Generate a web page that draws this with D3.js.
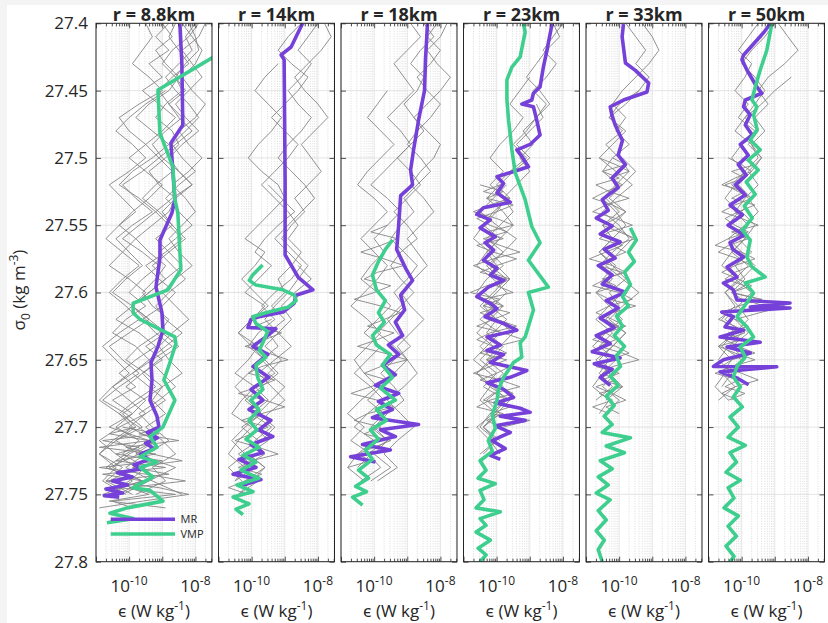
<!DOCTYPE html>
<html><head><meta charset="utf-8">
<script src="https://cdn.jsdelivr.net/npm/d3@7"></script>
<style>
body{margin:0;background:#fff;}
svg{display:block;}
text{font-family:"Open Sans","Noto Sans",sans-serif;fill:#262626;}
</style></head><body>
<svg id="c" width="828" height="623"></svg>
<script>
// ---------------- DATA ----------------
const titles = ["r = 8.8km","r = 14km","r = 18km","r = 23km","r = 33km","r = 50km"];
const yTicks = [27.4,27.45,27.5,27.55,27.6,27.65,27.7,27.75,27.8];
const xMajor = [1e-11,1e-10,1e-9,1e-8];
const xLabelTicks = [1e-10,1e-8];
const xLabelExp = ["-10","-8"];
const seriesNames = ["MR","VMP"];

// MR profiles: [sigma0, log10(epsilon)]
const mr1 = [[27.400,-8.47],[27.4295,-8.41],[27.4756,-8.38],[27.489,-8.74],[27.531,-8.62],[27.541,-8.71],[27.561,-9.07],[27.574,-9.07],[27.596,-9.19],[27.615,-9.01],[27.628,-8.98],[27.640,-9.13],[27.652,-9.34],[27.665,-9.31],[27.680,-9.37],[27.692,-9.16],[27.700,-9.10],[27.704,-9.45],[27.708,-9.15],[27.712,-9.50],[27.716,-9.25],[27.720,-9.65],[27.724,-9.40],[27.728,-9.85],[27.731,-9.60],[27.734,-10.35],[27.737,-9.90],[27.740,-10.50],[27.743,-10.05],[27.746,-10.70],[27.749,-10.20],[27.751,-10.75],[27.752,-10.30]];
const mr2 = [[27.400,-8.46],[27.4176,-8.81],[27.4235,-9.11],[27.427,-9.02],[27.516,-8.99],[27.572,-8.99],[27.5885,-8.60],[27.598,-8.15],[27.602,-8.66],[27.608,-8.72],[27.6145,-9.05],[27.618,-9.78],[27.620,-10.02],[27.626,-10.11],[27.627,-9.27],[27.633,-9.57],[27.640,-9.96],[27.646,-9.51],[27.655,-9.96],[27.663,-9.48],[27.672,-10.02],[27.680,-9.66],[27.687,-10.08],[27.695,-9.42],[27.702,-9.78],[27.707,-9.36],[27.713,-10.02],[27.719,-9.66],[27.724,-10.38],[27.730,-9.87],[27.735,-10.56],[27.739,-9.72],[27.744,-10.38]];
const mr3 = [[27.400,-8.39],[27.427,-8.45],[27.450,-8.48],[27.472,-8.66],[27.494,-8.81],[27.509,-8.90],[27.520,-8.84],[27.528,-9.20],[27.550,-9.26],[27.568,-9.32],[27.582,-9.05],[27.591,-8.84],[27.602,-9.20],[27.613,-9.08],[27.622,-9.36],[27.632,-9.14],[27.639,-9.57],[27.646,-9.26],[27.654,-9.75],[27.661,-9.36],[27.669,-9.96],[27.675,-9.26],[27.681,-9.87],[27.687,-9.45],[27.693,-10.05],[27.698,-8.66],[27.702,-9.81],[27.707,-9.36],[27.713,-10.35],[27.717,-9.51],[27.722,-10.71],[27.726,-9.96]];
const mr4 = [[27.4005,-8.33],[27.407,-8.38],[27.4146,-8.44],[27.420,-8.48],[27.4325,-8.59],[27.4473,-8.69],[27.452,-8.89],[27.457,-8.94],[27.460,-9.24],[27.462,-8.89],[27.472,-8.79],[27.483,-8.69],[27.490,-8.99],[27.494,-9.39],[27.499,-9.24],[27.5066,-9.04],[27.509,-9.34],[27.514,-9.99],[27.519,-9.79],[27.526,-9.99],[27.533,-9.59],[27.537,-10.40],[27.542,-10.60],[27.546,-10.19],[27.552,-10.50],[27.5586,-10.04],[27.563,-10.35],[27.5685,-10.09],[27.576,-10.40],[27.582,-9.99],[27.587,-10.19],[27.591,-9.79],[27.596,-10.25],[27.603,-10.60],[27.608,-10.19],[27.612,-9.99],[27.618,-10.35],[27.623,-9.79],[27.628,-9.39],[27.633,-10.29],[27.639,-9.89],[27.643,-10.29],[27.646,-9.79],[27.652,-10.19],[27.658,-9.09],[27.663,-9.59],[27.667,-10.29],[27.672,-9.79],[27.678,-9.49],[27.682,-10.04],[27.686,-9.29],[27.689,-8.99],[27.692,-9.89],[27.695,-9.14],[27.699,-10.04],[27.704,-9.59],[27.710,-10.14],[27.716,-9.74],[27.721,-10.19],[27.724,-9.89]];
const mr5 = [[27.4005,-9.87],[27.410,-9.91],[27.4295,-9.81],[27.435,-9.51],[27.4444,-9.11],[27.451,-9.16],[27.457,-9.87],[27.462,-10.27],[27.468,-10.22],[27.4756,-10.12],[27.487,-9.90],[27.498,-10.03],[27.505,-9.81],[27.515,-10.21],[27.522,-10.03],[27.531,-10.51],[27.539,-10.33],[27.5447,-10.69],[27.5506,-10.21],[27.5566,-10.57],[27.5625,-9.97],[27.568,-10.45],[27.5744,-10.12],[27.580,-10.63],[27.587,-10.21],[27.5937,-10.51],[27.5997,-9.81],[27.606,-10.39],[27.6115,-10.03],[27.619,-10.57],[27.626,-10.15],[27.632,-10.69],[27.638,-10.27],[27.644,-10.81],[27.6486,-9.97],[27.653,-10.75],[27.657,-10.21],[27.663,-10.57],[27.669,-10.27]];
const mr6 = [[27.4005,-9.14],[27.407,-9.34],[27.4235,-9.94],[27.427,-9.99],[27.4347,-9.84],[27.4473,-9.54],[27.452,-9.39],[27.457,-9.89],[27.462,-9.94],[27.468,-9.74],[27.4756,-9.89],[27.483,-9.68],[27.490,-10.04],[27.498,-9.80],[27.505,-10.10],[27.5127,-9.86],[27.520,-10.19],[27.5276,-9.89],[27.535,-10.35],[27.5424,-9.98],[27.550,-10.41],[27.5573,-9.92],[27.563,-10.35],[27.568,-10.26],[27.5736,-9.94],[27.581,-10.44],[27.5885,-10.14],[27.593,-10.55],[27.598,-10.25],[27.6056,-10.14],[27.6078,-8.54],[27.6108,-9.74],[27.6115,-8.54],[27.6145,-10.60],[27.618,-10.25],[27.6256,-10.50],[27.628,-9.94],[27.633,-10.65],[27.637,-9.44],[27.6405,-10.44],[27.645,-9.74],[27.650,-10.55],[27.655,-10.85],[27.6552,-8.94],[27.659,-10.65],[27.6635,-10.14],[27.6685,-9.79]];

// VMP profiles: [sigma0, log10(epsilon)]
const vmp1 = [[27.400,-5.75],[27.4496,-9.13],[27.4816,-9.07],[27.5067,-8.68],[27.531,-8.62],[27.541,-8.53],[27.583,-8.44],[27.598,-8.83],[27.608,-9.88],[27.615,-9.88],[27.620,-9.67],[27.633,-8.62],[27.638,-8.59],[27.652,-8.77],[27.665,-8.95],[27.680,-8.62],[27.700,-8.98],[27.707,-9.37],[27.715,-9.16],[27.722,-9.67],[27.726,-9.16],[27.730,-9.67],[27.737,-9.28],[27.745,-9.88],[27.747,-9.37],[27.755,-8.98],[27.760,-10.06],[27.764,-10.58],[27.768,-9.88],[27.771,-10.67]];
const vmp2 = [[27.5795,-9.67],[27.587,-9.97],[27.591,-10.07],[27.5945,-9.87],[27.598,-9.06],[27.602,-8.71],[27.606,-8.66],[27.611,-8.91],[27.615,-9.57],[27.618,-9.97],[27.623,-9.87],[27.629,-9.52],[27.635,-9.62],[27.643,-9.77],[27.648,-9.57],[27.654,-9.87],[27.663,-9.82],[27.672,-9.66],[27.680,-10.02],[27.687,-9.78],[27.695,-10.08],[27.702,-9.84],[27.709,-10.17],[27.715,-9.78],[27.721,-10.26],[27.726,-9.87],[27.732,-10.32],[27.738,-9.78],[27.743,-10.44],[27.748,-9.96],[27.752,-10.56],[27.757,-10.08],[27.761,-10.47],[27.765,-10.26]];
const vmp3 = [[27.561,-9.45],[27.568,-9.66],[27.577,-9.87],[27.587,-10.05],[27.598,-9.93],[27.606,-9.66],[27.615,-9.87],[27.622,-9.69],[27.632,-10.05],[27.639,-9.93],[27.646,-9.51],[27.654,-9.75],[27.663,-9.45],[27.671,-9.81],[27.680,-9.36],[27.687,-9.93],[27.695,-9.63],[27.702,-10.11],[27.709,-9.87],[27.717,-10.26],[27.724,-10.05],[27.732,-10.47],[27.738,-10.17],[27.744,-10.56],[27.748,-10.23],[27.752,-10.65],[27.758,-10.35]];
const vmp4 = [[27.4005,-9.19],[27.4065,-9.14],[27.425,-9.29],[27.4325,-9.54],[27.442,-9.69],[27.457,-9.69],[27.472,-9.64],[27.494,-9.54],[27.511,-9.44],[27.531,-9.14],[27.551,-8.94],[27.563,-8.69],[27.576,-9.04],[27.596,-8.44],[27.600,-9.04],[27.613,-8.89],[27.633,-9.14],[27.6375,-9.29],[27.648,-9.24],[27.652,-9.49],[27.663,-9.79],[27.672,-9.94],[27.680,-9.99],[27.691,-10.13],[27.701,-10.04],[27.710,-10.25],[27.718,-10.13],[27.725,-10.50],[27.732,-10.32],[27.738,-10.56],[27.742,-10.04],[27.747,-10.50],[27.754,-10.38],[27.760,-10.62],[27.763,-9.89],[27.768,-10.50],[27.773,-10.32],[27.778,-10.62],[27.784,-10.19],[27.790,-10.56],[27.795,-10.32],[27.800,-10.50]];
const vmp5 = [[27.552,-9.66],[27.561,-9.48],[27.570,-9.72],[27.577,-9.54],[27.585,-9.84],[27.594,-9.66],[27.603,-9.90],[27.610,-9.72],[27.6175,-10.08],[27.625,-9.90],[27.632,-10.15],[27.640,-9.84],[27.647,-10.08],[27.655,-9.96],[27.662,-10.27],[27.669,-10.03],[27.677,-10.39],[27.684,-10.15],[27.692,-10.45],[27.698,-10.21],[27.704,-10.51],[27.708,-9.66],[27.714,-10.39],[27.719,-9.84],[27.725,-10.57],[27.731,-10.21],[27.737,-10.63],[27.743,-10.33],[27.749,-10.69],[27.754,-10.27],[27.762,-10.63],[27.769,-10.39],[27.777,-10.69],[27.784,-10.45],[27.791,-10.63],[27.800,-10.51]];
const vmp6 = [[27.4005,-9.09],[27.420,-9.24],[27.4347,-9.44],[27.4473,-9.59],[27.457,-9.69],[27.462,-9.54],[27.468,-9.64],[27.479,-9.53],[27.4867,-9.74],[27.494,-9.44],[27.5016,-9.80],[27.509,-9.50],[27.518,-9.86],[27.527,-9.59],[27.5357,-9.92],[27.5447,-9.68],[27.5536,-9.98],[27.561,-9.74],[27.5736,-9.84],[27.581,-9.69],[27.5885,-9.29],[27.593,-9.89],[27.6004,-9.64],[27.611,-9.94],[27.618,-10.14],[27.6256,-9.84],[27.633,-9.64],[27.6405,-10.04],[27.648,-9.89],[27.655,-10.14],[27.6628,-10.25],[27.670,-10.04],[27.6777,-10.25],[27.685,-9.98],[27.6925,-10.35],[27.700,-10.10],[27.7075,-10.41],[27.7135,-9.89],[27.719,-10.35],[27.726,-10.16],[27.7335,-10.47],[27.7395,-10.04],[27.745,-10.41],[27.7527,-10.23],[27.760,-10.53],[27.766,-10.10],[27.7736,-10.41],[27.781,-10.16],[27.7884,-10.47],[27.796,-10.23],[27.800,-10.35]];

// Individual MR profiles (grey): start sigma, step, log10(epsilon) values
const grey1 = [
 {s0:27.40,ds:0.01,v:[-8.2,-8.0,-7.9,-8.3,-8.6,-8.4,-8.9,-9.2,-8.7,-8.5,-8.9,-9.4,-9.1,-8.6,-8.8,-9.3,-9.8,-9.4,-8.9,-9.2,-9.6,-9.3,-8.8,-9.1,-9.7,-10.1,-9.5,-9.0,-9.6,-10.2,-9.8,-10.4,-9.7,-10.6,-9.9,-10.5]},
 {s0:27.40,ds:0.01,v:[-7.7,-7.9,-8.4,-8.1,-7.8,-8.2,-8.6,-8.3,-7.9,-8.4,-8.8,-8.5,-8.1,-8.7,-9.2,-8.8,-8.4,-8.9,-9.5,-9.1,-8.6,-9.0,-9.6,-9.2,-8.7,-9.3,-9.9,-9.4,-8.9,-9.5,-10.0,-9.2,-9.8,-8.6,-9.4,-10.2]},
 {s0:27.40,ds:0.01,v:[-9.5,-9.3,-9.6,-9.9,-9.4,-9.0,-9.7,-10.3,-10.0,-9.5,-9.1,-9.6,-10.2,-9.8,-9.3,-9.9,-10.4,-10.0,-9.6,-10.1,-10.5,-9.9,-9.4,-10.0,-10.6,-10.2,-9.7,-10.3,-10.8,-10.1,-9.6,-10.4,-10.9,-10.2,-10.7,-9.9]},
 {s0:27.40,ds:0.01,v:[-8.6,-8.8,-8.5,-8.2,-8.7,-9.1,-8.8,-8.4,-8.9,-9.3,-9.0,-8.5,-8.1,-8.6,-9.0,-8.7,-8.3,-8.8,-9.3,-8.9,-9.4,-9.9,-9.5,-9.0,-8.5,-9.1,-9.6,-9.2,-9.8,-10.3,-9.7,-9.2,-10.0,-10.5,-9.6,-10.8]},
 {s0:27.40,ds:0.01,v:[-8.0,-8.3,-8.1,-8.5,-8.9,-8.6,-8.2,-7.9,-8.3,-8.7,-8.4,-8.0,-8.5,-8.9,-8.5,-8.1,-8.6,-9.1,-8.7,-8.3,-8.8,-9.2,-8.9,-8.4,-8.9,-9.4,-9.0,-8.6,-9.1,-9.7,-9.3,-8.8,-9.5,-10.1,-9.3,-8.4]},
 {s0:27.40,ds:0.01,v:[-9.0,-8.7,-9.2,-8.9,-8.5,-8.8,-9.4,-9.8,-9.3,-8.8,-9.3,-9.9,-10.3,-9.7,-9.2,-9.7,-10.2,-9.6,-9.1,-9.6,-10.0,-9.5,-10.1,-10.5,-9.8,-9.4,-9.9,-10.5,-10.0,-9.5,-10.3,-10.9,-10.4,-9.8,-10.6,-9.2]},
 {s0:27.40,ds:0.01,v:[-8.4,-8.1,-7.8,-8.0,-8.4,-8.1,-7.7,-8.0,-8.5,-8.2,-7.8,-8.2,-8.7,-8.3,-8.0,-8.4,-8.8,-8.5,-8.1,-8.6,-9.0,-8.6,-8.2,-8.7,-9.1,-8.8,-8.4,-9.0,-9.3,-8.9,-9.5,-9.0,-8.6,-9.3,-8.9,-9.8]},
 {s0:27.45,ds:0.01,v:[-8.9,-9.5,-10.0,-10.4,-9.9,-9.5,-10.0,-10.6,-10.2,-9.8,-10.3,-10.7,-10.2,-9.7,-10.2,-10.6,-10.1,-9.7,-10.3,-10.8,-10.4,-10.0,-10.5,-10.9,-10.3,-9.9,-10.5,-10.9,-10.4,-10.8,-10.1]},
 {s0:27.40,ds:0.01,v:[-7.9,-8.2,-8.7,-9.0,-8.6,-8.3,-8.8,-8.5,-8.1,-8.6,-9.1,-8.7,-9.2,-9.6,-9.1,-8.7,-9.2,-8.8,-8.4,-8.9,-9.4,-9.9,-9.4,-8.9,-9.5,-9.0,-9.6,-10.1,-9.5,-9.9,-10.4,-9.7,-10.2,-9.5,-10.0,-10.6]},
 {s0:27.40,ds:0.01,v:[-8.8,-9.2,-8.8,-9.4,-9.0,-9.6,-9.1,-8.6,-9.0,-9.5,-10.0,-9.5,-9.0,-9.4,-9.9,-10.3,-9.8,-10.2,-10.6,-10.0,-9.5,-9.9,-10.4,-9.7,-9.2,-9.8,-10.3,-9.8,-10.5,-9.9,-10.6,-9.4,-10.1,-10.7,-9.6,-10.3]},
 {s0:27.70,ds:0.005,v:[-9.8,-10.6,-9.4,-10.9,-9.2,-10.4,-8.9,-10.8,-9.6,-10.3,-8.6,-10.5,-9.9]},
 {s0:27.70,ds:0.005,v:[-9.0,-9.7,-8.5,-10.1,-9.3,-8.4,-9.9,-8.8,-10.7,-9.1,-8.2,-9.6,-10.9]},
 {s0:27.70,ds:0.005,v:[-10.2,-9.1,-10.8,-9.7,-10.4,-9.0,-10.9,-9.5,-8.3,-10.0,-9.4,-10.6,-8.9]}
];
const grey2 = [
 {s0:27.40,ds:0.01,v:[-8.0,-8.3,-8.6,-8.2,-8.5,-8.9,-8.6,-8.2,-8.5,-8.9,-9.2,-8.8,-8.4,-8.1,-8.5,-8.9,-9.3,-8.9,-8.5,-8.8,-9.3,-9.7,-9.3,-9.8,-10.1,-9.6,-9.2,-9.7,-10.2,-9.7,-10.3,-9.8,-10.4,-9.9,-10.5]},
 {s0:27.40,ds:0.01,v:[-7.8,-7.6,-7.9,-8.3,-8.7,-8.4,-8.0,-7.7,-8.1,-8.5,-8.2,-7.9,-8.3,-8.7,-8.4,-8.8,-9.1,-8.7,-8.3,-8.6,-8.9,-9.3,-9.6,-9.2,-8.8,-9.3,-9.8,-9.4,-9.0,-9.5,-9.9,-9.5,-10.1,-9.6,-10.2]},
 {s0:27.43,ds:0.01,v:[-9.2,-9.6,-9.9,-9.5,-9.1,-9.4,-9.8,-10.1,-9.7,-9.2,-9.0,-9.4,-9.8,-10.2,-9.6,-9.9,-10.3,-9.9,-9.5,-10.0,-10.4,-10.0,-9.6,-10.1,-10.5,-10.1,-9.7,-10.2,-10.6,-10.2,-10.7,-10.3]},
 {s0:27.40,ds:0.01,v:[-8.5,-8.9,-9.2,-8.8,-8.3,-8.6,-9.0,-9.4,-9.0,-8.6,-8.9,-9.3,-9.7,-9.3,-8.9,-8.6,-8.9,-8.5,-8.8,-9.2,-9.0,-9.4,-9.0,-9.5,-9.2,-9.7,-9.3,-9.9,-9.5,-10.0,-9.4,-9.9,-9.6,-10.3,-9.8,-10.4]},
 {s0:27.52,ds:0.01,v:[-9.5,-9.1,-8.7,-9.2,-9.6,-9.9,-9.4,-9.8,-10.2,-9.6,-10.0,-10.4,-9.8,-10.1,-10.5,-9.9,-10.3,-10.6,-10.0,-10.4,-10.7,-10.2,-10.5]},
 {s0:27.58,ds:0.01,v:[-8.6,-8.2,-8.7,-9.1,-8.8,-9.2,-9.6,-9.1,-9.5,-9.0,-9.4,-9.8,-9.3,-9.7,-10.1,-9.6,-10.0,-10.4]},
 {s0:27.62,ds:0.005,v:[-9.4,-9.9,-9.1,-9.6,-10.2,-9.5,-8.9,-9.7,-10.1,-9.3,-9.8,-10.4,-9.6,-9.0,-9.7,-10.3,-9.5,-10.0,-10.5,-9.8,-9.2,-10.0,-10.4,-9.7,-10.2,-10.7,-10.1]}
];
const grey3 = [
 {s0:27.40,ds:0.01,v:[-8.1,-8.4,-8.0,-8.3,-8.7,-8.4,-8.0,-8.3,-8.7,-9.0,-8.6,-8.3,-8.7,-9.1,-8.8,-9.2,-9.5,-9.1,-8.7,-9.0,-9.4,-9.1,-9.5,-9.9,-9.4,-9.0,-9.4,-9.8,-10.2,-9.7,-10.1,-9.6,-10.2,-9.8,-10.4]},
 {s0:27.40,ds:0.01,v:[-8.9,-8.6,-9.0,-9.4,-9.1,-8.8,-9.2,-9.6,-9.2,-8.9,-9.3,-9.7,-10.1,-9.6,-9.2,-9.6,-10.0,-9.7,-10.1,-10.4,-9.9,-9.5,-9.9,-10.3,-9.8,-10.2,-10.6,-10.1,-9.7,-10.2,-10.6,-10.0,-10.5,-10.8,-10.3]},
 {s0:27.40,ds:0.01,v:[-7.8,-8.0,-8.4,-8.1,-7.7,-8.0,-8.4,-8.8,-8.4,-8.0,-8.2,-8.6,-8.9,-8.5,-8.2,-8.6,-9.0,-8.7,-8.4,-8.8,-9.2,-8.9,-8.5,-8.9,-9.3,-9.0,-8.7,-9.1,-9.6,-9.2,-8.8,-9.3,-9.7,-9.3,-9.9]},
 {s0:27.45,ds:0.01,v:[-9.6,-9.9,-10.2,-9.8,-9.4,-9.8,-10.2,-10.5,-10.0,-9.6,-10.0,-10.4,-10.0,-9.6,-9.9,-10.3,-10.7,-10.2,-9.8,-10.2,-10.6,-10.3,-9.9,-10.4,-10.8,-10.3,-10.7,-10.1,-10.5]},
 {s0:27.40,ds:0.01,v:[-8.5,-8.2,-8.6,-8.9,-8.5,-8.7,-9.1,-8.8,-8.5,-8.9,-9.3,-8.9,-8.6,-9.0,-9.4,-9.0,-8.7,-9.2,-9.5,-9.2,-8.8,-9.2,-9.6,-9.3,-8.9,-9.4,-9.8,-9.4,-9.1,-9.6,-10.0,-9.6,-10.0,-9.5,-10.1]},
 {s0:27.55,ds:0.005,v:[-9.6,-10.1,-9.3,-9.8,-10.4,-9.7,-9.1,-9.9,-10.3,-9.5,-10.0,-10.6,-9.8,-9.2,-9.7,-10.2,-9.4,-9.9,-10.5,-9.7,-9.0,-9.8,-10.3,-9.6,-10.1,-10.7,-9.9,-9.4,-10.2,-10.6,-9.8,-10.3,-9.5,-10.0,-10.5,-10.1,-10.8]}
];
const grey4 = [
 {s0:27.40,ds:0.01,v:[-8.0,-8.3,-8.6,-8.2,-8.5,-8.9,-8.5,-8.8,-9.2,-8.9,-9.3,-9.0,-9.4,-9.8,-9.5,-9.9,-10.3,-9.8,-10.2,-9.7,-10.1,-10.5,-10.0,-10.3,-9.8,-10.2,-10.6,-10.1,-9.7,-10.2,-10.5,-10.0,-10.4]},
 {s0:27.40,ds:0.01,v:[-8.3,-8.1,-8.5,-8.8,-9.1,-8.7,-8.4,-8.8,-9.1,-9.5,-9.1,-9.6,-10.0,-9.6,-10.1,-10.4,-9.9,-10.3,-10.6,-10.1,-9.7,-10.1,-10.5,-9.9,-10.3,-10.7,-10.2,-9.8,-10.3,-9.9,-10.4,-10.0,-10.5]},
 {s0:27.44,ds:0.01,v:[-9.0,-9.3,-9.6,-9.2,-9.5,-9.9,-10.2,-9.8,-10.2,-9.7,-10.0,-10.4,-10.7,-10.2,-9.8,-10.3,-10.6,-10.2,-9.7,-10.1,-10.5,-10.1,-10.6,-10.2,-9.6,-10.0,-10.4,-9.9]},
 {s0:27.46,ds:0.01,v:[-8.8,-8.6,-9.0,-9.4,-9.0,-9.5,-9.9,-10.3,-9.8,-9.5,-9.9,-10.3,-10.0,-9.6,-10.0,-10.4,-10.0,-9.5,-9.9,-10.3,-9.8,-10.2,-10.5,-10.0,-10.4]},
 {s0:27.52,ds:0.01,v:[-9.7,-10.1,-10.5,-10.0,-9.4,-9.8,-10.3,-9.9,-10.4,-9.8,-10.2,-10.6,-10.1,-10.5,-10.0,-10.4,-9.7,-10.1,-10.6,-10.2,-9.9]},
 {s0:27.52,ds:0.005,v:[-9.9,-10.4,-9.6,-10.2,-10.7,-10.0,-9.5,-10.3,-9.8,-10.6,-10.1,-9.4,-10.0,-10.5,-9.7,-10.3,-10.8,-9.9,-10.4,-9.6,-10.1,-10.6,-9.8,-9.2,-10.0,-10.5,-9.7,-10.2,-10.7,-9.9,-9.3,-10.1,-10.4,-9.6,-10.2,-9.0,-9.8]},
 {s0:27.52,ds:0.005,v:[-10.5,-9.8,-10.3,-9.5,-10.0,-10.6,-10.2,-9.7,-10.4,-9.9,-9.3,-10.1,-10.7,-10.2,-9.6,-10.0,-9.5,-10.4,-9.8,-10.5,-10.0,-9.4,-10.2,-10.6,-10.1,-9.7,-10.3,-9.6,-10.0,-10.5,-9.9,-9.5,-10.2,-10.6,-9.8,-10.3,-9.9]}
];
const grey5 = [
 {s0:27.40,ds:0.01,v:[-9.3,-9.0,-8.8,-9.1,-9.5,-9.9,-10.2,-9.8,-10.1,-9.7,-10.2,-10.5,-10.0,-10.4,-10.0,-10.5,-10.2,-10.6,-10.1,-10.5,-9.9,-10.3,-10.7,-10.2,-10.6,-10.1,-10.5,-10.8,-10.3,-10.6]},
 {s0:27.40,ds:0.01,v:[-9.8,-9.5,-9.2,-9.5,-9.1,-9.4,-9.8,-10.3,-9.9,-10.4,-10.0,-9.7,-10.1,-10.5,-10.1,-9.8,-10.2,-10.6,-10.2,-9.8,-10.3,-10.0,-10.4,-9.8,-10.2,-10.7,-10.3,-9.9,-10.4]},
 {s0:27.45,ds:0.01,v:[-9.4,-10.0,-10.3,-9.8,-10.2,-10.6,-10.1,-9.6,-10.1,-10.5,-10.0,-9.7,-10.2,-10.6,-10.2,-10.7,-10.3,-9.9,-10.4,-10.8,-10.3,-10.6,-10.2,-10.7]},
 {s0:27.50,ds:0.01,v:[-9.9,-9.5,-9.9,-10.3,-9.8,-10.2,-9.6,-10.0,-10.4,-9.9,-9.4,-9.9,-10.3,-9.8,-10.2,-10.6,-10.1,-10.5,-10.0,-10.4]},
 {s0:27.50,ds:0.005,v:[-10.2,-9.8,-10.5,-10.0,-10.7,-10.3,-9.7,-10.4,-10.8,-10.1,-9.6,-10.3,-10.6,-9.9,-10.4,-10.9,-10.2,-9.8,-10.5,-10.1,-10.7,-10.3,-9.5,-10.2,-10.6,-10.0,-10.4,-10.8,-10.1,-9.7,-10.3,-10.7,-10.0,-10.5,-9.9,-10.6,-10.2,-10.8,-10.3]},
 {s0:27.50,ds:0.005,v:[-10.6,-10.1,-9.7,-10.3,-9.9,-10.4,-10.8,-10.2,-9.8,-10.1,-10.5,-10.0,-9.5,-10.2,-9.8,-10.3,-10.6,-9.9,-10.4,-10.8,-10.0,-9.6,-10.3,-10.7,-10.2,-9.8,-10.4,-10.1,-10.6,-9.9,-9.4,-10.2,-10.5,-10.1,-10.7,-10.2,-9.8,-10.4,-10.0]}
];
const grey6 = [
 {s0:27.40,ds:0.01,v:[-9.5,-9.8,-10.1,-9.7,-9.9,-10.2,-9.8,-10.1,-9.6,-10.0,-10.3,-9.9,-10.2,-10.5,-10.1,-10.4,-9.9,-10.3,-10.6,-10.1,-10.5,-10.2,-10.6,-10.2,-10.7,-10.3,-10.6,-10.2,-10.7]},
 {s0:27.40,ds:0.01,v:[-8.9,-8.6,-8.3,-8.7,-9.2,-9.5,-9.2,-9.6,-9.3,-9.7,-9.4,-9.8,-9.5,-9.9,-10.2,-9.8,-10.1,-9.7,-10.2,-9.9,-10.3,-8.7,-10.2,-9.8,-10.3,-9.9,-10.4,-10.0,-10.3]},
 {s0:27.40,ds:0.01,v:[-9.0,-9.3,-9.7,-10.0,-9.6,-9.3,-9.6,-9.9,-10.2,-9.7,-9.5,-9.9,-10.3,-9.8,-9.5,-9.9,-10.4,-10.0,-9.6,-10.0,-10.5,-10.1,-9.8,-10.2,-10.6,-10.0,-10.5,-10.8,-10.4]},
 {s0:27.44,ds:0.01,v:[-8.5,-9.0,-9.4,-9.9,-9.5,-9.8,-9.4,-9.7,-10.1,-9.7,-10.0,-9.6,-9.9,-10.3,-9.8,-10.2,-9.7,-10.1,-10.5,-10.0,-10.4,-10.7,-10.3,-10.6]},
 {s0:27.50,ds:0.005,v:[-10.0,-9.6,-10.3,-9.9,-10.5,-10.1,-9.7,-10.2,-10.6,-10.0,-9.5,-10.3,-9.8,-10.4,-10.7,-10.1,-9.7,-10.2,-10.5,-9.9,-10.3,-9.4,-10.1,-10.6,-10.2,-9.8,-10.4,-10.0,-10.7,-10.2,-9.6,-10.3,-10.8,-10.1,-10.5,-9.9,-10.4]},
 {s0:27.50,ds:0.005,v:[-10.4,-10.0,-9.7,-10.2,-10.6,-9.9,-10.3,-9.6,-10.1,-10.5,-10.2,-9.8,-10.4,-10.8,-10.0,-9.6,-10.2,-10.6,-10.1,-9.7,-10.3,-10.0,-9.3,-10.4,-10.7,-10.2,-9.9,-10.5,-10.1,-9.6,-10.3,-10.6,-10.0,-9.5,-10.2,-10.6,-10.1]}
];

const mrAll = [mr1,mr2,mr3,mr4,mr5,mr6];
const vmpAll = [vmp1,vmp2,vmp3,vmp4,vmp5,vmp6];
const greyAll = [grey1,grey2,grey3,grey4,grey5,grey6];

// ---------------- LAYOUT ----------------
const colMR = "#7641d9", colVMP = "#3ecf8e", colGrey = "#858585", colAxis = "#262626";
const left0 = 96, step = 122.5, W = 116, yTop = 23.3, yBot = 561.7;

const svg = d3.select("#c");
svg.append("rect").attr("width",828).attr("height",623).attr("fill","#f4f4f4");
svg.append("rect").attr("x",7).attr("y",5).attr("width",821).attr("height",618).attr("fill","#fff");

const y = d3.scaleLinear().domain([27.4,27.8]).range([yTop,yBot]);
const x = d3.scaleLog().domain([1e-11, Math.pow(10,-7.5)]).range([0,W]);

const minor = [];
for (let d=-11; d<=-8; d++) for (let m=2; m<=9; m++) { const v=m*Math.pow(10,d); if (v<=x.domain()[1]) minor.push(v); }

const line = d3.line().x(d=>x(Math.pow(10,d[1]))).y(d=>y(d[0]));
const greyLine = (p) => p.v.map((v,i)=>[p.s0+i*p.ds, v]);

const defs = svg.append("defs");

titles.forEach((t,i)=>{
  const g = svg.append("g").attr("transform",`translate(${left0+i*step},0)`);
  defs.append("clipPath").attr("id","clip"+i).append("rect")
    .attr("x",0).attr("y",yTop).attr("width",W).attr("height",yBot-yTop);

  const grid = g.append("g");
  grid.selectAll(".mg").data(minor).join("line")
    .attr("x1",d=>x(d)).attr("x2",d=>x(d)).attr("y1",yTop).attr("y2",yBot)
    .attr("stroke","#c4c4c4").attr("stroke-width",0.6).attr("stroke-dasharray","1,1.5");
  grid.selectAll(".Mg").data(xMajor).join("line")
    .attr("x1",d=>x(d)).attr("x2",d=>x(d)).attr("y1",yTop).attr("y2",yBot)
    .attr("stroke","#dedede").attr("stroke-width",0.8);
  grid.selectAll(".hg").data(yTicks).join("line")
    .attr("x1",0).attr("x2",W).attr("y1",d=>y(d)).attr("y2",d=>y(d))
    .attr("stroke","#dedede").attr("stroke-width",0.8);

  const data = g.append("g").attr("clip-path",`url(#clip${i})`);
  data.selectAll(".gr").data(greyAll[i]).join("path")
    .attr("d",p=>line(greyLine(p))).attr("fill","none")
    .attr("stroke",colGrey).attr("stroke-width",0.9);
  data.append("path").attr("d",line(mrAll[i])).attr("fill","none")
    .attr("stroke",colMR).attr("stroke-width",3.6).attr("stroke-linejoin","round");
  data.append("path").attr("d",line(vmpAll[i])).attr("fill","none")
    .attr("stroke",colVMP).attr("stroke-width",3.6).attr("stroke-linejoin","round");

  const ax = g.append("g");
  ax.append("g").attr("transform",`translate(0,${yBot})`)
    .call(d3.axisBottom(x).tickValues(xMajor).tickSize(-5).tickFormat(""));
  ax.append("g").attr("transform",`translate(0,${yBot})`)
    .call(d3.axisBottom(x).tickValues(minor).tickSize(-3).tickFormat(""));
  ax.append("g").attr("transform",`translate(0,${yTop})`)
    .call(d3.axisTop(x).tickValues(xMajor).tickSize(-5).tickFormat(""));
  ax.append("g").attr("transform",`translate(0,${yTop})`)
    .call(d3.axisTop(x).tickValues(minor).tickSize(-3).tickFormat(""));
  const ly = ax.append("g")
    .call(d3.axisLeft(y).tickValues(yTicks).tickSize(-5).tickPadding(8)
      .tickFormat(d=> i===0 ? String(+d.toFixed(2)) : ""));
  ax.append("g").attr("transform",`translate(${W},0)`)
    .call(d3.axisRight(y).tickValues(yTicks).tickSize(-5).tickFormat(""));
  ax.selectAll(".domain").remove();
  ax.selectAll(".tick line").attr("stroke",colAxis).attr("stroke-width",0.8);
  ly.selectAll("text").attr("font-size",17).attr("fill",colAxis)
    .style("font-family",'"Open Sans","Noto Sans",sans-serif');
  ax.append("rect").attr("x",0).attr("y",yTop).attr("width",W).attr("height",yBot-yTop)
    .attr("fill","none").attr("stroke",colAxis).attr("stroke-width",1);

  xLabelTicks.forEach((v,k)=>{
    const tt = g.append("text").attr("x",x(v)).attr("y",592).attr("text-anchor","middle").attr("font-size",17);
    tt.append("tspan").text("10");
    tt.append("tspan").attr("font-size",12).attr("dy",-7).text(xLabelExp[k]);
  });
  const xl = g.append("text").attr("x",W/2).attr("y",617).attr("text-anchor","middle").attr("font-size",17);
  xl.append("tspan").text("\u03F5 (W kg");
  xl.append("tspan").attr("font-size",12).attr("dy",-7).text("-1");
  xl.append("tspan").attr("dy",7).text(")");

  g.append("text").attr("x",W/2).attr("y",21).attr("text-anchor","middle")
    .attr("font-size",18).attr("font-weight","bold").attr("fill","#000").text(t);
});

const yl = svg.append("text").attr("transform","translate(25,290) rotate(-90)")
  .attr("text-anchor","middle").attr("font-size",17);
yl.append("tspan").text("\u03C3");
yl.append("tspan").attr("font-size",12).attr("dy",5).text("0");
yl.append("tspan").attr("dy",-5).text(" (kg m");
yl.append("tspan").attr("font-size",12).attr("dy",-7).text("-3");
yl.append("tspan").attr("dy",7).text(")");

const lg = svg.append("g").attr("transform",`translate(${left0},0)`);
const legY = [519.3, 534];
[colMR,colVMP].forEach((c,k)=>{
  lg.append("line").attr("x1",14.7).attr("x2",79).attr("y1",legY[k]).attr("y2",legY[k])
    .attr("stroke",c).attr("stroke-width",3.6);
  lg.append("text").attr("x",84.5).attr("y",legY[k]).attr("dy","0.35em")
    .attr("font-size",11).text(seriesNames[k]);
});
</script>
</body></html>
